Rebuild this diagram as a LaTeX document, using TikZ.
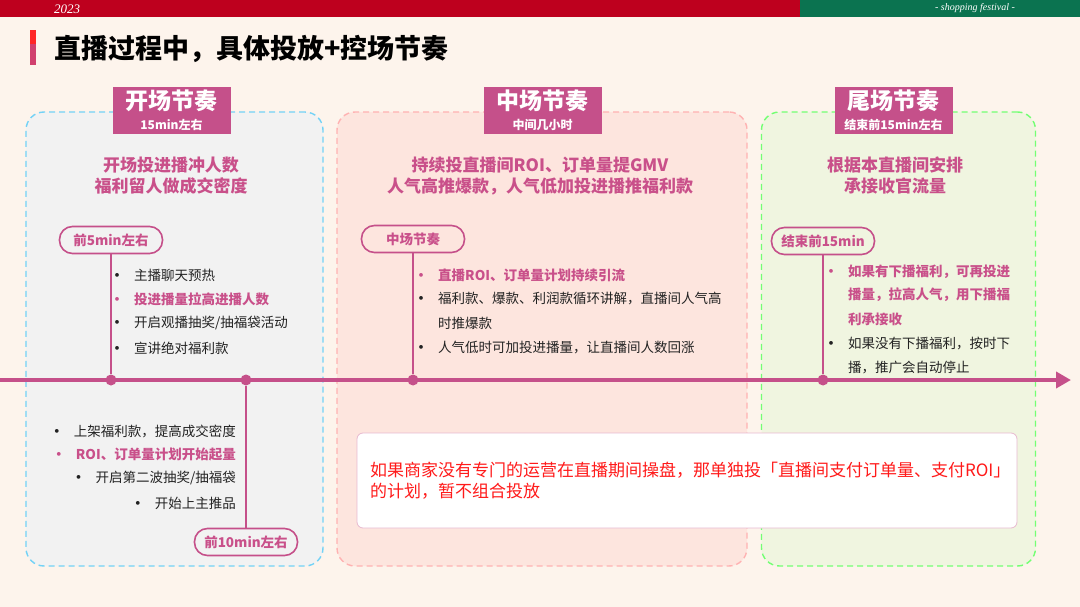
\documentclass[tikz,border=0pt]{standalone}
\usepackage{fontspec}
\setmainfont{Noto Sans CJK SC}
\newfontfamily\deco{Liberation Serif}
\usetikzlibrary{positioning,arrows.meta}
\definecolor{bgcream}{HTML}{FDF4EC}
\definecolor{barred}{HTML}{BE001E}
\definecolor{bargreen}{HTML}{0B7350}
\definecolor{rose}{HTML}{C5508A}
\definecolor{rosetext}{HTML}{C9508A}
\definecolor{inkgray}{HTML}{222222}
\definecolor{noteRed}{HTML}{FF1A1A}
\newcommand{\itemdot}[1]{\makebox[0pt]{\textbf{•}}\hspace{17pt}#1}
\tikzstyle{panel} = [rectangle, rounded corners=18pt, line width=1.4pt, dash pattern=on 6pt off 4pt, inner sep=0pt]
\tikzstyle{header} = [rectangle, fill=rose, text=white, minimum width=118pt, minimum height=47pt, align=center, inner sep=0pt, font=\fontsize{23}{20}\selectfont\bfseries]
\tikzstyle{motto} = [align=center, text=rosetext, inner sep=0pt, font=\fontsize{17}{21}\selectfont\bfseries]
\tikzstyle{pill} = [draw=rose, line width=1.6pt, rounded corners=13pt, fill=none, minimum width=103pt, minimum height=27pt, inner sep=0pt, text=rosetext, font=\fontsize{13.5}{16}\selectfont\bfseries]
\tikzstyle{item} = [inner sep=0pt, text=inkgray, font=\fontsize{13.5}{16}\selectfont]
\tikzstyle{hot} = [item, text=rosetext, font=\fontsize{13.5}{16}\selectfont\bfseries]
\tikzstyle{dot} = [circle, fill=rose, minimum size=11pt, inner sep=0pt]
\tikzstyle{stem} = [draw=rose, line width=2pt]

\begin{document}
\begin{tikzpicture}[x=1pt,y=-1pt]
		% background and top bar
		\useasboundingbox (0,0) rectangle (1080,607);
		\fill[bgcream] (0,0) rectangle (1080,607);
		\fill[barred] (0,0) rectangle (800,17);
		\fill[bargreen] (800,0) rectangle (1080,17);
		\node[text=white, inner sep=0pt, font=\deco\itshape\fontsize{13}{13}\selectfont] (year) at (67,9) {2023};
		\node[text=white, inner sep=0pt, font=\deco\itshape\fontsize{10}{10}\selectfont] (festival) at (975,8.5) {- shopping festival -};

		% title
		\fill[red!85!white] (30,30) rectangle (36,44);
		\fill[rose!80!red] (30,44) rectangle (36,65);
		\node[anchor=west, inner sep=0pt, text=black, font=\fontsize{27}{30}\selectfont\bfseries] (title) at (54,49) {直播过程中，具体投放+控场节奏};

		% panels
		\node[panel, draw=cyan!55!white, fill=black!5, minimum width=297pt, minimum height=454pt] (openpanel) at (174.5,339) {};
		\node[panel, draw=red!30!white, fill=red!6!bgcream, minimum width=410pt, minimum height=454pt] (midpanel) at (542,339) {};
		\node[panel, draw=green!55!white, fill=green!5!bgcream, minimum width=274pt, minimum height=454pt] (endpanel) at (898.5,339) {};

		% headers
		\node[header] (openhead) at (171.5,110.5) {开场节奏\\{\fontsize{12}{13}\selectfont 15min左右}};
		\node[header] (midhead) at (542.5,110.5) {中场节奏\\{\fontsize{12}{13}\selectfont 中间几小时}};
		\node[header] (endhead) at (893.5,110.5) {尾场节奏\\{\fontsize{12}{13}\selectfont 结束前15min左右}};

		% mottos
		\node[motto] (openmotto) at (171,176) {开场投进播冲人数\\福利留人做成交密度};
		\node[motto] (midmotto) at (540,176) {持续投直播间ROI、订单量提GMV\\人气高推爆款，人气低加投进播推福利款};
		\node[motto] (endmotto) at (895,176) {根据本直播间安排\\承接收官流量};

		% timeline
		\coordinate (linestart) at (0,380);
		\coordinate (lineend) at (1071,380);
		\draw[rose, line width=4.5pt, -{Triangle[length=15pt,width=16pt]}] (linestart) -- (lineend);
		\node[dot] (dot1) at (111,380) {};
		\node[dot] (dot2) at (246,380) {};
		\node[dot] (dot3) at (413,380) {};
		\node[dot] (dot4) at (823,380) {};

		% pills
		\node[pill] (pill1) at (111,240) {前5min左右};
		\node[pill] (pill2) at (246,542) {前10min左右};
		\node[pill] (pill3) at (413,239) {中场节奏};
		\node[pill] (pill4) at (823,241) {结束前15min};
		\draw[stem] (pill1) -- (dot1);
		\draw[stem] (pill2) -- (dot2);
		\draw[stem] (pill3) -- (dot3);
		\draw[stem] (pill4) -- (dot4);

		% opening items, above the line
		\node[item, anchor=west] (o1) at (117,275) {\itemdot{主播聊天预热}};
		\node[hot, anchor=west] (o2) at (117,299) {\itemdot{投进播量拉高进播人数}};
		\node[item, anchor=west] (o3) at (117,323) {\itemdot{开启观播抽奖/抽福袋活动}};
		\node[item, anchor=west] (o4) at (117,348) {\itemdot{宣讲绝对福利款}};

		% opening items, below the line
		\node[item, anchor=east] (u1) at (236,431) {\itemdot{上架福利款，提高成交密度}};
		\node[hot, anchor=east] (u2) at (236,454) {\itemdot{ROI、订单量计划开始起量}};
		\node[item, anchor=east] (u3) at (236,478) {\itemdot{开启第二波抽奖/抽福袋}};
		\node[item, anchor=east] (u4) at (236,503) {\itemdot{开始上主推品}};

		% middle items
		\node[hot, anchor=west] (m1) at (421,275) {\itemdot{直播ROI、订单量计划持续引流}};
		\node[item, anchor=west] (m2) at (421,299) {\itemdot{福利款、爆款、利润款循环讲解，直播间人气高}};
		\node[item, anchor=west] (m2b) at (438,323) {时推爆款};
		\node[item, anchor=west] (m3) at (421,348) {\itemdot{人气低时可加投进播量，让直播间人数回涨}};

		% closing items
		\node[hot, anchor=west] (e1) at (831,272) {\itemdot{如果有下播福利，可再投进}};
		\node[hot, anchor=west] (e1b) at (848,295) {播量，拉高人气，用下播福};
		\node[hot, anchor=west] (e1c) at (848,319) {利承接收};
		\node[item, anchor=west] (e2) at (831,344) {\itemdot{如果没有下播福利，按时下}};
		\node[item, anchor=west] (e2b) at (848,368) {播，推广会自动停止};

		% note
		\node[draw=rose!40!white, line width=0.8pt, fill=white, rounded corners=6pt, minimum width=660pt, minimum height=95pt, text width=634pt, align=left, inner sep=0pt, text=noteRed, font=\fontsize{17}{21}\selectfont] (note) at (687,480.5) {如果商家没有专门的运营在直播期间操盘，那单独投「直播间支付订单量、支付ROI」\\的计划，暂不组合投放};
	\end{tikzpicture}
\end{document}
